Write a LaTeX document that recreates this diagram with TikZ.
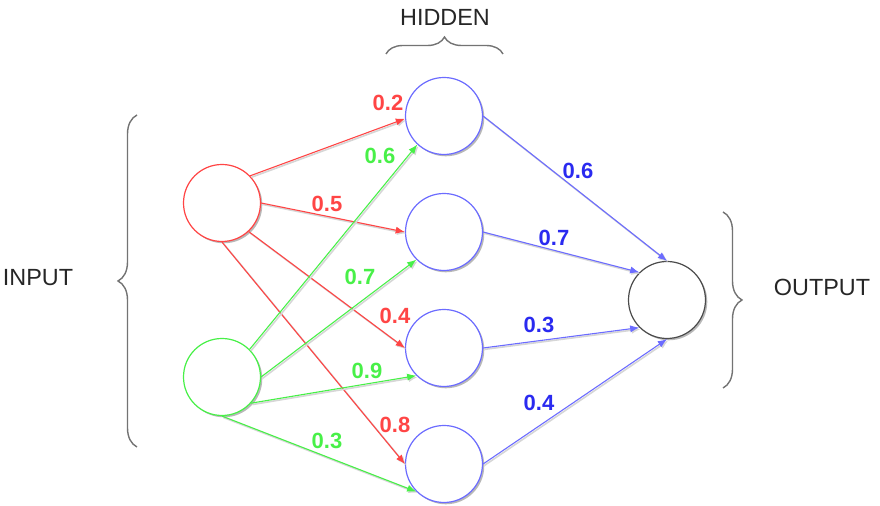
\documentclass[tikz,border=0pt]{standalone}
\usepackage{fontspec}
\setmainfont{Liberation Sans}
\usepackage{tikz}
\usetikzlibrary{arrows.meta,shadows,decorations.pathreplacing}

\definecolor{wred}{HTML}{FF4545}
\definecolor{wgreen}{HTML}{48F048}
\definecolor{wblue}{HTML}{2A2AF0}
\definecolor{lblue}{HTML}{6C6CFF}

\begin{document}
\begin{tikzpicture}[x=0.5pt, y=-0.5pt,
	neuron/.style={shape=circle, draw=#1, fill=white, line width=0.6pt, minimum size=38.5pt, inner sep=0pt,
		drop shadow={shadow xshift=0.9pt, shadow yshift=-0.9pt, fill=black!28, opacity=1}},
	link/.style={draw=#1, line width=0.55pt, -{Latex[length=4.6pt,width=3.6pt]},
		preaction={draw=black!16, line width=0.8pt, transform canvas={xshift=0.7pt,yshift=-0.7pt}}},
	weight/.style={text=#1, font=\bfseries\fontsize{11}{13}\selectfont, inner sep=0pt},
	layer/.style={text=black!85, font=\fontsize{11.7}{14}\selectfont, inner sep=0pt},
	curly/.style={draw=black!55, line width=0.7pt, decorate, decoration={brace, amplitude=#1}}]
	
	\useasboundingbox (0,0) rectangle (880,506);
	
	\node[neuron=wred]   (i1) at (222, 203) {};
	\node[neuron=wgreen] (i2) at (222, 377) {};
	\node[neuron=lblue]  (h1) at (444, 116) {};
	\node[neuron=lblue]  (h2) at (444, 232) {};
	\node[neuron=lblue]  (h3) at (444, 348) {};
	\node[neuron=lblue]  (h4) at (444, 464) {};
	\node[neuron=black!70] (o) at (667, 300) {};
	
	\draw[link=wred] (i1.44)  -- (h1.184);
	\draw[link=wred] (i1.0)   -- (h2.180);
	\draw[link=wred] (i1.-47) -- (h3.180);
	\draw[link=wred] (i1.-90) -- (h4.180);
	
	\draw[link=wgreen] (i2.45)  -- (h1.227);
	\draw[link=wgreen] (i2.0)   -- (h2.225);
	\draw[link=wgreen] (i2.-42) -- (h3.225);
	\draw[link=wgreen] (i2.-90) -- (h4.225);
	
	\draw[link=lblue] (h1.0) -- (o.90);
	\draw[link=lblue] (h2.0) -- (o.135);
	\draw[link=lblue] (h3.0) -- (o.225);
	\draw[link=lblue] (h4.0) -- (o.270);
	
	\node[weight=wred]   (w11) at (388, 103) {0.2};
	\node[weight=wred]   (w12) at (327, 204) {0.5};
	\node[weight=wred]   (w13) at (395, 316) {0.4};
	\node[weight=wred]   (w14) at (395, 425) {0.8};
	\node[weight=wgreen] (w21) at (380, 156) {0.6};
	\node[weight=wgreen] (w22) at (360, 277) {0.7};
	\node[weight=wgreen] (w23) at (367, 371) {0.9};
	\node[weight=wgreen] (w24) at (327, 441) {0.3};
	\node[weight=wblue]  (v1) at (578, 171) {0.6};
	\node[weight=wblue]  (v2) at (554, 238) {0.7};
	\node[weight=wblue]  (v3) at (539, 325) {0.3};
	\node[weight=wblue]  (v4) at (539, 403) {0.4};
	
	\coordinate (ib1) at (137, 447);
	\coordinate (ib2) at (137, 115);
	\coordinate (hb1) at (386, 54);
	\coordinate (hb2) at (503, 54);
	\coordinate (ob1) at (723, 212);
	\coordinate (ob2) at (723, 388);
	\draw[curly=9.5pt] (ib1) -- (ib2);
	\draw[curly=8.5pt] (hb1) -- (hb2);
	\draw[curly=9.5pt] (ob1) -- (ob2);
	
	\node[layer] (input)  at (38, 278)  {INPUT};
	\node[layer] (hidden) at (445, 17)  {HIDDEN};
	\node[layer] (output) at (822, 287) {OUTPUT};
	
\end{tikzpicture}
\end{document}
